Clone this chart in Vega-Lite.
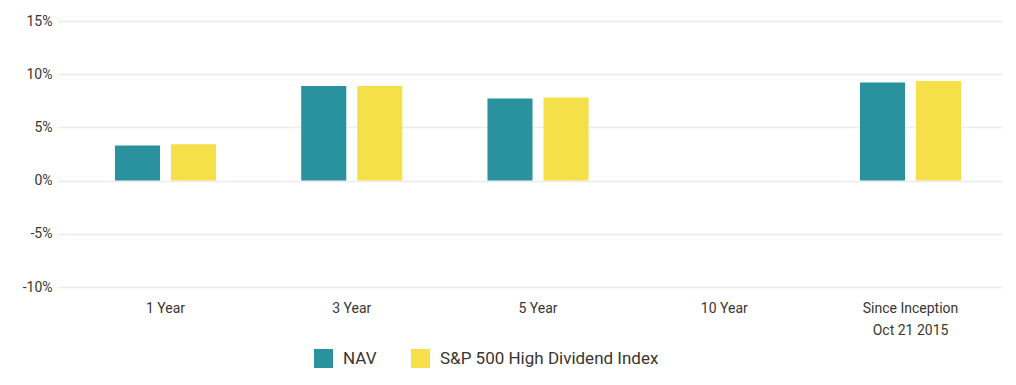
{
  "$schema": "https://vega.github.io/schema/vega-lite/v6.json",
  "autosize": "none",
  "width": 944,
  "height": 266,
  "padding": {"left": 58, "top": 21, "right": 14, "bottom": 98},
  "background": "white",
  "data": {
    "values": [
      {"period": "1 Year", "series": "NAV", "value": 3.3},
      {"period": "1 Year", "series": "S&P 500 High Dividend Index", "value": 3.42},
      {"period": "3 Year", "series": "NAV", "value": 8.88},
      {"period": "3 Year", "series": "S&P 500 High Dividend Index", "value": 8.89},
      {"period": "5 Year", "series": "NAV", "value": 7.72},
      {"period": "5 Year", "series": "S&P 500 High Dividend Index", "value": 7.82},
      {"period": "Since Inception Oct 21 2015", "series": "NAV", "value": 9.23},
      {"period": "Since Inception Oct 21 2015", "series": "S&P 500 High Dividend Index", "value": 9.35}
    ]
  },
  "mark": {"type": "bar"},
  "encoding": {
    "x": {
      "field": "period",
      "type": "nominal",
      "title": null,
      "scale": {
        "domain": ["1 Year", "3 Year", "5 Year", "10 Year", "Since Inception Oct 21 2015"],
        "paddingInner": 0.457,
        "paddingOuter": 0.2627,
        "align": 0.582
      },
      "axis": {
        "labelAngle": 0,
        "domain": false,
        "ticks": false,
        "grid": false,
        "labelFont": "Roboto",
        "labelFontSize": 14,
        "labelColor": "#3a3530",
        "labelPadding": 14,
        "labelLineHeight": 22,
        "labelExpr": "datum.label == 'Since Inception Oct 21 2015' ? ['Since Inception', 'Oct 21 2015'] : datum.label"
      }
    },
    "xOffset": {
      "field": "series",
      "type": "nominal",
      "scale": {"paddingInner": 0.196, "paddingOuter": 0}
    },
    "y": {
      "field": "value",
      "type": "quantitative",
      "title": null,
      "scale": {"domain": [-10, 15], "nice": false},
      "axis": {
        "values": [-10, -5, 0, 5, 10, 15],
        "labelExpr": "datum.value + '%'",
        "domain": false,
        "ticks": false,
        "gridColor": "#ebebeb",
        "gridWidth": 1.5,
        "labelFont": "Roboto",
        "labelFontSize": 14,
        "labelColor": "#3a3530",
        "labelPadding": 6
      }
    },
    "color": {
      "field": "series",
      "type": "nominal",
      "scale": {
        "domain": ["NAV", "S&P 500 High Dividend Index"],
        "range": ["#2a929f", "#f5e04a"]
      },
      "legend": {
        "title": null,
        "orient": "none",
        "direction": "horizontal",
        "legendX": 256,
        "legendY": 328,
        "symbolType": "square",
        "symbolSize": 361,
        "symbolStrokeWidth": 0,
        "symbolOpacity": 1,
        "labelFont": "Roboto",
        "labelFontSize": 17,
        "labelColor": "#3a3530",
        "labelOffset": 10,
        "labelLimit": 0,
        "columnPadding": 34
      }
    }
  },
  "config": {"view": {"stroke": null}}
}
